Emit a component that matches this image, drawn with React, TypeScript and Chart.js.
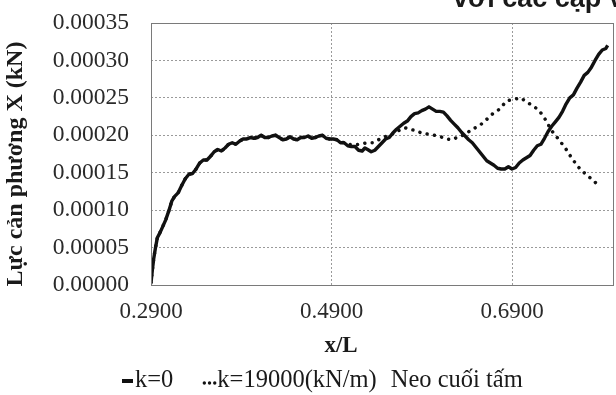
import React, { useEffect, useRef } from "react";
import { Chart, registerables } from "chart.js";

Chart.register(...registerables);

const xTicks = [0.29, 0.49, 0.69];
const yTicks = [0, 0.00005, 0.0001, 0.00015, 0.0002, 0.00025, 0.0003, 0.00035];

const seriesLabels = ["k=0", "k=19000(kN/m)"];
const noteLabel = "Neo cuối tấm";
const yTitle = "Lực cản phương X (kN)";
const xTitle = "x/L";
const topText = "với các cặp v";

const k0X = [
  0.29, 0.2915, 0.293, 0.295, 0.297, 0.3, 0.303, 0.3063, 0.31, 0.313, 0.316, 0.32, 0.324, 0.328, 0.332,
  0.336, 0.34, 0.344, 0.348, 0.352, 0.356, 0.36, 0.364, 0.368, 0.372, 0.376, 0.38, 0.384, 0.388, 0.392,
  0.396, 0.4, 0.404, 0.408, 0.412, 0.416, 0.42, 0.424, 0.428, 0.432, 0.436, 0.44, 0.444, 0.448, 0.452,
  0.456, 0.46, 0.464, 0.468, 0.472, 0.476, 0.48, 0.484, 0.488, 0.492, 0.496, 0.5, 0.504, 0.508, 0.512,
  0.516, 0.52, 0.524, 0.527, 0.53, 0.534, 0.538, 0.542, 0.546, 0.55, 0.554, 0.558, 0.562, 0.566, 0.57,
  0.574, 0.578, 0.582, 0.586, 0.59, 0.594, 0.598, 0.602, 0.606, 0.61, 0.614, 0.618, 0.622, 0.626, 0.63,
  0.634, 0.638, 0.642, 0.646, 0.65, 0.654, 0.658, 0.662, 0.666, 0.67, 0.674, 0.678, 0.682, 0.686, 0.69,
  0.694, 0.698, 0.702, 0.706, 0.71, 0.714, 0.718, 0.722, 0.726, 0.73, 0.734, 0.738, 0.742, 0.746, 0.75,
  0.754, 0.758, 0.762, 0.766, 0.77, 0.774, 0.778, 0.782, 0.786, 0.79, 0.794, 0.796,
];
const k0Y = [
  0.000003, 0.00002, 0.000035, 0.00005, 0.000063, 0.00007, 0.000078, 0.000087, 0.0001, 0.000112, 0.000118, 0.000123, 0.000133, 0.000142, 0.000148,
  0.000149, 0.000155, 0.000163, 0.000167, 0.000167, 0.000172, 0.000178, 0.000181, 0.000179, 0.000183, 0.000188, 0.00019, 0.000188, 0.000192, 0.000195,
  0.000195, 0.000197, 0.000196, 0.000197, 0.0002, 0.000197, 0.000197, 0.000199, 0.0002, 0.000197, 0.000194, 0.000195, 0.000198, 0.000195, 0.000194,
  0.000197, 0.000197, 0.000199, 0.000196, 0.000197, 0.000199, 0.0002, 0.000196, 0.000195, 0.000195, 0.000194, 0.00019, 0.00019, 0.000186, 0.000185,
  0.000185, 0.00018, 0.000179, 0.000183, 0.000181, 0.000178, 0.00018, 0.000185, 0.00019, 0.000195, 0.000197, 0.000203, 0.000208, 0.000212, 0.000216,
  0.000219, 0.000225, 0.000229, 0.00023, 0.000233, 0.000235, 0.000238, 0.000235, 0.000232, 0.000232, 0.000231, 0.000226, 0.00022, 0.000215, 0.00021,
  0.000204, 0.000199, 0.000194, 0.00019, 0.000184, 0.000178, 0.000172, 0.000166, 0.000163, 0.00016, 0.000156, 0.000155, 0.000155, 0.000158, 0.000155,
  0.000157, 0.000163, 0.000167, 0.00017, 0.000173, 0.00018, 0.000186, 0.000188, 0.000196, 0.000205, 0.000212, 0.000218, 0.000224, 0.000232, 0.000242,
  0.00025, 0.000254, 0.000263, 0.000271, 0.00028, 0.000284, 0.000291, 0.0003, 0.000308, 0.000314, 0.000316, 0.00032,
];

// k=19000: identical readings to k=0 up to x≈0.5 (hidden under the solid line), then its own path
const k19X = [
  0.29, 0.2915, 0.293, 0.295, 0.297, 0.3, 0.303, 0.3063, 0.31, 0.313, 0.316, 0.32, 0.324, 0.328, 0.332,
  0.336, 0.34, 0.344, 0.348, 0.352, 0.356, 0.36, 0.364, 0.368, 0.372, 0.376, 0.38, 0.384, 0.388, 0.392,
  0.396, 0.4, 0.404, 0.408, 0.412, 0.416, 0.42, 0.424, 0.428, 0.432, 0.436, 0.44, 0.444, 0.448, 0.452,
  0.456, 0.46, 0.464, 0.468, 0.472, 0.476, 0.48, 0.484, 0.488, 0.492, 0.496, 0.5, 0.504, 0.508,
  0.515, 0.5215, 0.529, 0.536, 0.5437, 0.551, 0.5567, 0.564, 0.5715, 0.5807, 0.59, 0.599, 0.6085, 0.6178,
  0.6233, 0.6307, 0.638, 0.6456, 0.653, 0.66, 0.6678, 0.675, 0.6844, 0.692, 0.699, 0.7048, 0.712, 0.7196, 0.727,
  0.734, 0.742, 0.749, 0.757, 0.764, 0.7715, 0.779, 0.788,
];
const k19Y = [
  0.000003, 0.00002, 0.000035, 0.00005, 0.000063, 0.00007, 0.000078, 0.000087, 0.0001, 0.000112, 0.000118, 0.000123, 0.000133, 0.000142, 0.000148,
  0.000149, 0.000155, 0.000163, 0.000167, 0.000167, 0.000172, 0.000178, 0.000181, 0.000179, 0.000183, 0.000188, 0.00019, 0.000188, 0.000192, 0.000195,
  0.000195, 0.000197, 0.000196, 0.000197, 0.0002, 0.000197, 0.000197, 0.000199, 0.0002, 0.000197, 0.000194, 0.000195, 0.000198, 0.000195, 0.000194,
  0.000197, 0.000197, 0.000199, 0.000196, 0.000197, 0.000199, 0.0002, 0.000196, 0.000195, 0.000195, 0.000194, 0.000191, 0.00019, 0.000188,
  0.000187, 0.000188, 0.00019, 0.00019, 0.000195, 0.000199, 0.000201, 0.000206, 0.00021, 0.000207, 0.000203, 0.000201, 0.000199, 0.000195,
  0.000194, 0.000198, 0.000201, 0.000208, 0.000212, 0.000219, 0.000228, 0.000234, 0.000246, 0.000248, 0.00025, 0.000246, 0.00024, 0.000234, 0.000221,
  0.000206, 0.000194, 0.000183, 0.000168, 0.000157, 0.000148, 0.000141, 0.00013,
];

const toPoints = (xs: number[], ys: number[]) => xs.map((x, i) => ({ x, y: ys[i] }));

const SERIF = '"Liberation Serif", "Times New Roman", serif';
const SANS = '"Liberation Sans", Arial, sans-serif';

const decorPlugin = {
  id: "decor",
  afterDraw(chart: any) {
    const { ctx, chartArea } = chart;
    ctx.save();
    // plot border
    ctx.strokeStyle = "#7a7a7a";
    ctx.lineWidth = 1;
    ctx.setLineDash([]);
    ctx.strokeRect(chartArea.left + 0.5, chartArea.top + 0.5, chartArea.right - chartArea.left - 1, chartArea.bottom - chartArea.top);

    // y title
    ctx.fillStyle = "#1a1a1a";
    ctx.font = `bold 24px ${SERIF}`;
    ctx.textAlign = "center";
    ctx.textBaseline = "middle";
    ctx.save();
    ctx.translate(16, 164);
    ctx.rotate(-Math.PI / 2);
    ctx.fillText(yTitle, 0, 0);
    ctx.restore();

    // x title
    ctx.font = `bold 23px ${SERIF}`;
    ctx.fillText(xTitle, 341, 346);

    // top text (cut off by the page edge)
    ctx.font = `bold 27px ${SANS}`;
    ctx.textAlign = "left";
    ctx.textBaseline = "alphabetic";
    ctx.fillText(topText, 453, 7);

    // legend
    const ds = chart.data.datasets;
    ctx.font = `24.5px ${SERIF}`;
    ctx.textBaseline = "middle";
    ctx.textAlign = "left";
    const ly = 381;
    let lx = 122;
    ctx.strokeStyle = ds[0].borderColor;
    ctx.lineWidth = 4;
    ctx.beginPath();
    ctx.moveTo(lx, ly);
    ctx.lineTo(lx + 11, ly);
    ctx.stroke();
    lx += 13;
    ctx.fillText(ds[0].label, lx, ly);
    lx += ctx.measureText(ds[0].label).width + 30;
    ctx.strokeStyle = ds[1].borderColor;
    ctx.lineWidth = 3.4;
    ctx.lineCap = "round";
    ctx.setLineDash([0.01, 5.2]);
    ctx.beginPath();
    ctx.moveTo(lx + 1, ly + 2);
    ctx.lineTo(lx + 12, ly + 2);
    ctx.stroke();
    ctx.setLineDash([]);
    lx += 14;
    ctx.fillText(ds[1].label, lx, ly);
    lx += ctx.measureText(ds[1].label).width + 14;
    ctx.fillText(noteLabel, lx, ly);
    ctx.restore();
  },
};

export default function App() {
  const ref = useRef<HTMLCanvasElement | null>(null);
  useEffect(() => {
    if (!ref.current) return;
    const chart = new Chart(ref.current, {
      type: "scatter",
      data: {
        datasets: [
          {
            label: seriesLabels[0],
            data: toPoints(k0X, k0Y),
            showLine: true,
            borderColor: "#111111",
            backgroundColor: "#111111",
            borderWidth: 3.4,
            pointRadius: 0,
            tension: 0,
            borderJoinStyle: "round",
          },
          {
            label: seriesLabels[1],
            data: toPoints(k19X, k19Y),
            showLine: true,
            borderColor: "#111111",
            backgroundColor: "#111111",
            borderWidth: 3.5,
            borderDash: [0.01, 7.4],
            borderCapStyle: "round",
            pointRadius: 0,
            tension: 0,
          },
        ],
      },
      options: {
        animation: false,
        responsive: false,
        layout: { padding: { left: 0, right: 2, top: 23, bottom: 0 } },
        plugins: { legend: { display: false }, tooltip: { enabled: false } },
        scales: {
          x: {
            type: "linear",
            min: 0.29,
            max: 0.803,
            afterBuildTicks: (s: any) => {
              s.ticks = xTicks.map((v) => ({ value: v }));
            },
            afterFit: (s: any) => {
              s.height = 110;
              s.paddingLeft = 0;
              s.paddingRight = 0;
            },
            grid: { color: "#9a9a9a", drawTicks: false, lineWidth: 1 },
            border: { display: false, dash: [2, 2] },
            ticks: {
              padding: 13,
              color: "#2a2a2a",
              font: { family: SERIF, size: 23 },
              maxRotation: 0,
              callback: (v: any) => Number(v).toFixed(4),
            },
          },
          y: {
            type: "linear",
            min: 0,
            max: 0.00035,
            afterBuildTicks: (s: any) => {
              s.ticks = yTicks.map((v) => ({ value: v }));
            },
            afterFit: (s: any) => {
              s.width = 151;
              s.paddingTop = 0;
              s.paddingBottom = 0;
            },
            grid: { color: "#9a9a9a", drawTicks: false, lineWidth: 1 },
            border: { display: false, dash: [2, 2] },
            ticks: {
              padding: 22,
              color: "#2a2a2a",
              font: { family: SERIF, size: 23.5 },
              callback: (v: any) => Number(v).toFixed(5),
            },
          },
        },
      },
      plugins: [decorPlugin],
    });
    return () => chart.destroy();
  }, []);
  return (
    <div style={{ position: "fixed", left: 0, top: 0, width: 616, height: 395, background: "#fff" }}>
      <canvas ref={ref} width={616} height={395} style={{ display: "block", width: 616, height: 395 }} />
    </div>
  );
}
